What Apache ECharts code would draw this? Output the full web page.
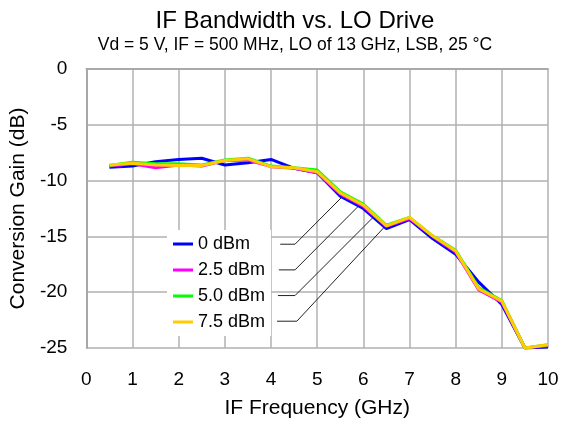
<!DOCTYPE html>
<html>
<head>
<meta charset="utf-8">
<script src="https://cdn.jsdelivr.net/npm/echarts@6/dist/echarts.min.js"></script>
<style>
html,body{margin:0;padding:0;background:#fff;}
#c{width:562px;height:428px;}
</style>
</head>
<body>
<div id="c"></div>
<script>
var freq = [0.5,1,1.5,2,2.5,3,3.5,4,4.5,5,5.5,6,6.5,7,7.5,8,8.5,9,9.5,10];
var gain0 = [-8.8,-8.7,-8.3,-8.1,-8.0,-8.6,-8.4,-8.1,-8.9,-9.3,-11.4,-12.5,-14.3,-13.5,-15.2,-16.6,-19.1,-21.1,-25.0,-24.9];
var gain25 = [-8.7,-8.5,-8.85,-8.6,-8.7,-8.2,-8.15,-8.75,-8.9,-9.3,-11.2,-12.3,-14.1,-13.4,-15.0,-16.4,-19.8,-20.9,-25.0,-24.8];
var gain50 = [-8.65,-8.35,-8.5,-8.5,-8.6,-8.15,-8.0,-8.7,-8.85,-9.05,-11.0,-12.1,-14.0,-13.3,-14.95,-16.25,-19.6,-20.75,-25.0,-24.7];
var gain75 = [-8.6,-8.45,-8.6,-8.65,-8.65,-8.2,-8.05,-8.75,-8.85,-9.2,-11.1,-12.2,-14.05,-13.3,-14.95,-16.3,-19.7,-20.8,-25.0,-24.7];
var seriesNames = ['0 dBm','2.5 dBm','5.0 dBm','7.5 dBm'];
var seriesColors = ['#0000ff','#ff00ff','#00ff00','#ffcc00'];
// leader lines from legend labels to curves (data coordinates)
var leader0 = [[4.2,-15.7],[4.52,-15.7],[5.53,-11.5]];
var leader25 = [[4.17,-18.0],[4.52,-18.0],[5.89,-12.3]];
var leader50 = [[4.15,-20.3],[4.52,-20.3],[6.21,-13.3]];
var leader75 = [[4.13,-22.6],[4.56,-22.6],[6.47,-14.1]];

function pairs(xs, ys){ return xs.map(function(x,i){ return [x, ys[i]]; }); }

var FONT = 'Liberation Sans';
var gains = [gain0, gain25, gain50, gain75];
var series = [];
[leader0, leader25, leader50, leader75].forEach(function(l){
  series.push({type:'line', data:l, silent:true, symbol:'none', z:1,
    lineStyle:{color:'#222', width:1}, legendHoverLink:false});
});
gains.forEach(function(g,i){
  series.push({name:seriesNames[i], type:'line', data:pairs(freq,g), symbol:'none', z:3+i,
    color:seriesColors[i], lineStyle:{color:seriesColors[i], width:3}});
});

var frameLine = {show:true, lineStyle:{color:'#aaaaaa', width:1.5}};
var chart = echarts.init(document.getElementById('c'), null, {renderer:'canvas'});
chart.setOption({
  animation:false,
  backgroundColor:'#fff',
  textStyle:{fontFamily:FONT},
  title:{
    text:'IF Bandwidth vs. LO Drive',
    subtext:'Vd = 5 V, IF = 500 MHz, LO of 13 GHz, LSB, 25 °C',
    left:290, textAlign:'center', top:4, itemGap:3,
    textStyle:{fontSize:24, fontWeight:'normal', color:'#000', fontFamily:FONT},
    subtextStyle:{fontSize:17.5, color:'#000', fontFamily:FONT}
  },
  grid:{left:86, right:14, top:69, bottom:80, containLabel:false},
  legend:{
    data:seriesNames, orient:'vertical', left:167, top:230,
    padding:[4,6,4,6], backgroundColor:'#fff',
    icon:'rect', itemWidth:20, itemHeight:3, itemGap:6,
    textStyle:{fontSize:18, color:'#000', lineHeight:20, fontFamily:FONT},
    selectedMode:false
  },
  xAxis:[{
    type:'value', min:0, max:10, interval:1,
    name:'IF Frequency (GHz)', nameLocation:'middle', nameGap:50,
    nameTextStyle:{fontSize:21, color:'#000', fontFamily:FONT},
    axisLine:{show:true, lineStyle:{color:'#999', width:1.5}},
    axisTick:{show:false},
    axisLabel:{fontSize:19, color:'#000', margin:22, fontFamily:FONT},
    splitLine:{show:true, lineStyle:{color:'#b0b0b0', width:1.5}}
  },{
    type:'value', position:'top', min:0, max:10, interval:1,
    axisLine:frameLine, axisTick:{show:false}, axisLabel:{show:false}, splitLine:{show:false}
  }],
  yAxis:[{
    type:'value', min:-25, max:0, interval:5,
    name:'Conversion Gain (dB)', nameLocation:'middle', nameGap:55, nameRotate:90,
    nameTextStyle:{fontSize:21, color:'#000', fontFamily:FONT},
    axisLine:{show:true, lineStyle:{color:'#999', width:1.5}},
    axisTick:{show:false},
    axisLabel:{fontSize:19, color:'#000', margin:19, fontFamily:FONT},
    splitLine:{show:true, lineStyle:{color:'#b0b0b0', width:1.5}}
  },{
    type:'value', position:'right', min:-25, max:0, interval:5,
    axisLine:frameLine, axisTick:{show:false}, axisLabel:{show:false}, splitLine:{show:false}
  }],
  series:series
});
</script>
</body>
</html>
